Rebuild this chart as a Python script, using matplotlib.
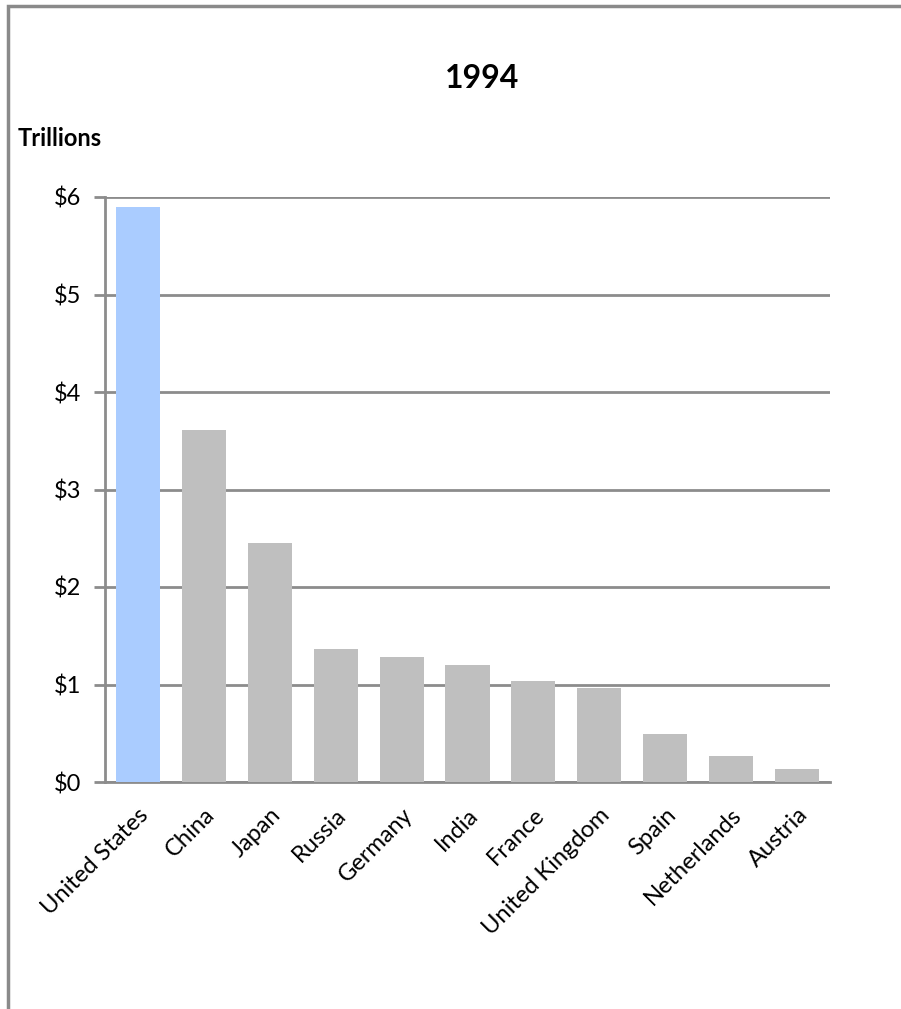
import matplotlib.pyplot as plt
from matplotlib.patches import Rectangle

countries = ["United States", "China", "Japan", "Russia", "Germany", "India",
             "France", "United Kingdom", "Spain", "Netherlands", "Austria"]
gdp = [5.90, 3.61, 2.45, 1.36, 1.28, 1.20, 1.04, 0.96, 0.49, 0.27, 0.13]
bar_colors = ["#aaccff"] + ["#bfbfbf"] * 10
yticks = [0, 1, 2, 3, 4, 5, 6]
ytick_labels = ["$0", "$1", "$2", "$3", "$4", "$5", "$6"]

plt.rcParams['font.family'] = ['Lato', 'DejaVu Sans']

fig = plt.figure(figsize=(9.01, 10.09), dpi=100)
ax = fig.add_axes([105/901, 1-782/1009, (830-105)/901, (782-197)/1009])

# chart frame (left and top edges visible)
fig.patches.append(Rectangle((8/901, -0.1), 1.2, 1 - 6/1009 + 0.1, transform=fig.transFigure,
                             fill=False, edgecolor="#8a8a8a", linewidth=2.5, zorder=0))

ax.bar(range(len(countries)), gdp, width=0.67, color=bar_colors, zorder=3)
ax.set_xlim(-0.5, len(countries) - 0.5)
ax.set_ylim(0, 6)
ax.set_yticks(yticks)
ax.set_yticklabels(ytick_labels, fontsize=17)
ax.set_xticks(range(len(countries)))
ax.set_xticklabels(countries, rotation=45, ha="right", rotation_mode="anchor", fontsize=17)
ax.tick_params(axis="x", length=0, pad=16)
ax.tick_params(axis="y", length=8, width=2, color="#8c8c8c", pad=9)
ax.grid(axis="y", color="#8c8c8c", linewidth=2, zorder=0)
for s in ["top", "right"]:
    ax.spines[s].set_visible(False)
for s in ["left", "bottom"]:
    ax.spines[s].set_color("#8c8c8c")
    ax.spines[s].set_linewidth(2)

fig.text(482/901, 1-78/1009, "1994", fontsize=23, fontweight="bold", ha="center", va="center")
fig.text(18/901, 1-138/1009, "Trillions", fontsize=17, fontweight="bold", ha="left", va="center")

fig.savefig("out.png", dpi=100)
